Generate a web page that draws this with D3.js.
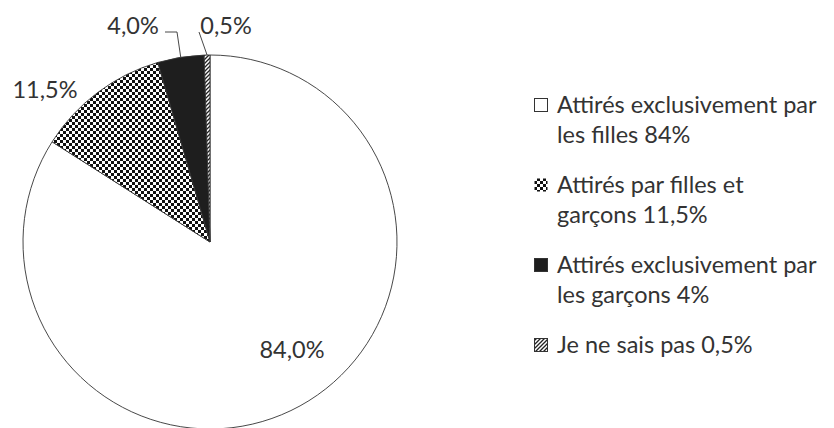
<!DOCTYPE html>
<html>
<head>
<meta charset="UTF-8">
<title>Attirance - camembert</title>
<script src="https://cdnjs.cloudflare.com/ajax/libs/d3/7.8.5/d3.min.js"></script>
<style>
  body { margin: 0; background: #fff; }
  svg text { font-family: Lato, "Open Sans", sans-serif; fill: #333; }
</style>
</head>
<body>
<div id="chart"></div>
<script>
// data
var categories = ["Attirés exclusivement par les filles 84%",
                  "Attirés par filles et garçons 11,5%",
                  "Attirés exclusivement par les garçons 4%",
                  "Je ne sais pas 0,5%"];
var legendLines = [["Attirés exclusivement par", "les filles 84%"],
                   ["Attirés par filles et", "garçons 11,5%"],
                   ["Attirés exclusivement par", "les garçons 4%"],
                   ["Je ne sais pas 0,5%"]];
var values = [84.0, 11.5, 4.0, 0.5];
var pieLabels = ["84,0%", "11,5%", "4,0%", "0,5%"];

var w = 834, h = 428,
    cx = 210, cy = 242, R = 187,
    fills = ["#fff", "url(#checker)", "#1e1e1e", "url(#hatch)"];

var svg = d3.select("#chart").append("svg")
    .attr("width", w)
    .attr("height", h);

var defs = svg.append("defs");
var checker = defs.append("pattern")
    .attr("id", "checker")
    .attr("patternUnits", "userSpaceOnUse")
    .attr("width", 6).attr("height", 6);
checker.append("rect").attr("width", 6).attr("height", 6).attr("fill", "#fff");
checker.append("rect").attr("width", 3).attr("height", 3).attr("fill", "#111");
checker.append("rect").attr("x", 3).attr("y", 3).attr("width", 3).attr("height", 3).attr("fill", "#111");

var hatch = defs.append("pattern")
    .attr("id", "hatch")
    .attr("patternUnits", "userSpaceOnUse")
    .attr("width", 4).attr("height", 4);
hatch.append("rect").attr("width", 4).attr("height", 4).attr("fill", "#fff");
hatch.append("path").attr("d", "M-1,1 l2,-2 M0,4 l4,-4 M3,5 l2,-2")
    .attr("stroke", "#222").attr("stroke-width", 1.3);

var pie = d3.pie().sort(null).value(function(d) { return d; });
var arc = d3.arc().innerRadius(0).outerRadius(R);
var arcs = pie(values);

var g = svg.append("g").attr("transform", "translate(" + cx + "," + cy + ")");

g.selectAll("path.slice")
    .data(arcs)
    .enter()
    .append("path")
    .attr("class", "slice")
    .attr("d", arc)
    .attr("fill", function(d, i) { return fills[i]; })
    .attr("stroke", "#333")
    .attr("stroke-width", 0.9);

// label positions (offsets from pie centre, text centre / baseline)
var labelPos = [[82, 116], [-165, -144], [-77, -208], [16, -208]];
var labels = g.selectAll("text.lbl")
    .data(arcs)
    .enter()
    .append("text")
    .attr("class", "lbl")
    .attr("x", function(d, i) { return labelPos[i][0]; })
    .attr("y", function(d, i) { return labelPos[i][1]; })
    .attr("text-anchor", "middle")
    .style("font-size", "23.5px")
    .text(function(d, i) { return pieLabels[i]; });

// leader lines for the small slices
var edge = d3.arc().innerRadius(R).outerRadius(R);
var p2 = edge.centroid(arcs[2]), p3 = edge.centroid(arcs[3]);
g.append("polyline")
    .attr("points", [[-45, -210], [-33, -210], p2].join(" "))
    .attr("fill", "none").attr("stroke", "#333").attr("stroke-width", 0.9);
g.append("polyline")
    .attr("points", [[-11, -210], p3].join(" "))
    .attr("fill", "none").attr("stroke", "#333").attr("stroke-width", 0.9);

// legend
var lg = svg.append("g").attr("transform", "translate(534,0)");
var baselines = [113, 193, 273, 353];
var items = lg.selectAll("g.item")
    .data(legendLines)
    .enter()
    .append("g")
    .attr("class", "item")
    .attr("transform", function(d, i) { return "translate(0," + baselines[i] + ")"; });

items.append("rect")
    .attr("x", 0.5).attr("y", -14.5)
    .attr("width", 13).attr("height", 13)
    .attr("fill", function(d, i) { return fills[i]; })
    .attr("stroke", function(d, i) { return i === 1 ? "none" : "#333"; })
    .attr("stroke-width", 1);

items.each(function(lines) {
  var t = d3.select(this);
  lines.forEach(function(s, k) {
    t.append("text")
      .attr("x", 23)
      .attr("y", k * 30)
      .style("font-size", "23.5px")
      .text(s);
  });
});
</script>
</body>
</html>
